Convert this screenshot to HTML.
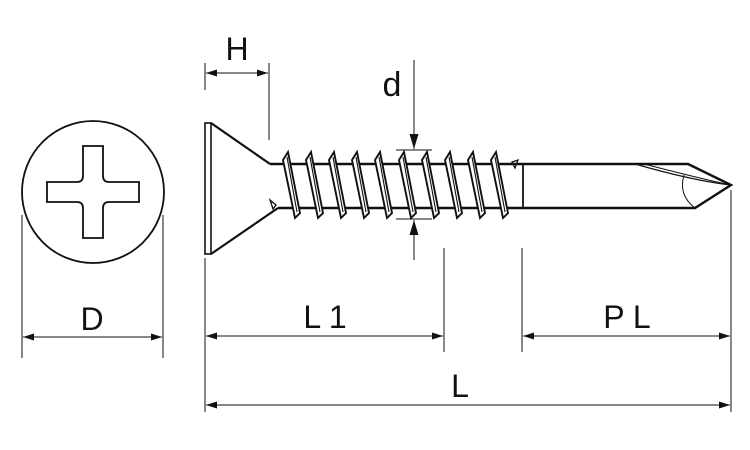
<!DOCTYPE html>
<html><head><style>
html,body{margin:0;padding:0;background:#fff;width:750px;height:450px;overflow:hidden}
svg text{font-family:"Liberation Sans",Arial,sans-serif;fill:#111}
</style></head><body>
<svg width="750" height="450" viewBox="0 0 750 450" xmlns="http://www.w3.org/2000/svg">
<defs>
<marker id="a" viewBox="0 0 10 10" refX="10" refY="5" markerWidth="11" markerHeight="7" markerUnits="userSpaceOnUse" orient="auto-start-reverse" preserveAspectRatio="none"><path d="M0,0 L10,5 L0,10 z" fill="#111"/></marker>
<marker id="b" viewBox="0 0 10 10" refX="10" refY="5" markerWidth="15" markerHeight="9" markerUnits="userSpaceOnUse" orient="auto-start-reverse" preserveAspectRatio="none"><path d="M0,0 L10,5 L0,10 z" fill="#111"/></marker>
</defs>
<g stroke="#111" fill="none" stroke-width="1.8">
<circle cx="93" cy="192" r="71"/>
<path d="M83,146 H103 V176 Q103,182 109,182 H139 V202 H109 Q103,202 103,208 V238 H83 V208 Q83,202 77,202 H47 V182 H77 Q83,182 83,176 Z"/>
<line x1="22" y1="215" x2="22" y2="358" stroke-width="1"/>
<line x1="163" y1="215" x2="163" y2="358" stroke-width="1"/>
<line x1="23" y1="337" x2="162" y2="337" stroke-width="1" marker-start="url(#a)" marker-end="url(#a)"/>
<rect x="205" y="123" width="6" height="131" stroke-width="1.6"/>
<path d="M211,123 L270,164 M211,254 L278,208" stroke-width="2.2"/>
<path d="M270,164 H688 L731,185 L695,208 H278" stroke-width="2.4"/>
<line x1="523" y1="164" x2="523" y2="208" stroke-width="1.8"/>
<path d="M635,164 Q690,180 730,185" stroke-width="1.3"/>
<path d="M644,164 Q690,176 730,185" stroke-width="1"/>
<path d="M684,175 Q678,195 695,208" stroke-width="1"/>
<path d="M512,162 L518,160 L515,168 Z" stroke-width="1.3"/>
<path d="M270,200 L276,205 L273,209 Z" stroke-width="1.3"/>
</g>
<g stroke="#111" fill="#fff" stroke-width="1.9">
<g id="t"><path d="M283,160 L288,152 L300,213 L295,218 Z"/><line x1="287" y1="157" x2="297" y2="212" stroke-width="1.1"/></g>
<use href="#t" x="23"/><use href="#t" x="46"/><use href="#t" x="69"/><use href="#t" x="92"/>
<use href="#t" x="116"/><use href="#t" x="139"/><use href="#t" x="162"/><use href="#t" x="185"/><use href="#t" x="208"/>
</g>
<g stroke="#111" fill="none" stroke-width="1">
<line x1="396" y1="150" x2="432" y2="150"/>
<line x1="396" y1="219" x2="432" y2="219"/>
<line x1="414" y1="60" x2="414" y2="149" marker-end="url(#b)"/>
<line x1="414" y1="260" x2="414" y2="220" marker-end="url(#b)"/>
<line x1="205" y1="63" x2="205" y2="90"/>
<line x1="269" y1="63" x2="269" y2="140"/>
<line x1="206" y1="73" x2="268" y2="73" marker-start="url(#a)" marker-end="url(#a)"/>
<line x1="205" y1="258" x2="205" y2="412"/>
<line x1="444" y1="248" x2="444" y2="352"/>
<line x1="522" y1="248" x2="522" y2="352"/>
<line x1="731" y1="190" x2="731" y2="412"/>
<line x1="206" y1="336" x2="443" y2="336" marker-start="url(#a)" marker-end="url(#a)"/>
<line x1="523" y1="336" x2="730" y2="336" marker-start="url(#a)" marker-end="url(#a)"/>
<line x1="206" y1="405" x2="730" y2="405" marker-start="url(#a)" marker-end="url(#a)"/>
</g>
<text x="237" y="60" font-size="32" text-anchor="middle">H</text>
<text x="392" y="96" font-size="34" text-anchor="middle">d</text>
<text x="92" y="330" font-size="32" text-anchor="middle">D</text>
<text x="325" y="328" font-size="32" text-anchor="middle">L 1</text>
<text x="627" y="328" font-size="32" text-anchor="middle">P L</text>
<text x="460" y="397" font-size="32" text-anchor="middle">L</text>
</svg>
</body></html>
